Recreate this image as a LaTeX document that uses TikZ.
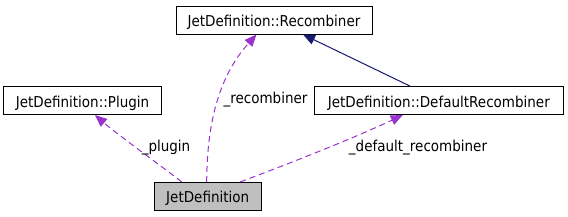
\documentclass[tikz,border=0pt]{standalone}
\usepackage{fontspec}
\setmainfont{DejaVu Sans}[FakeStretch=0.9]
\usetikzlibrary{arrows.meta,calc}
\definecolor{edgepurple}{HTML}{9A32CD}
\definecolor{edgenavy}{HTML}{191970}
\definecolor{boxgray}{HTML}{BFBFBF}
\tikzset{
  cls/.style={draw=black, line width=1bp, fill=white, inner sep=0pt, minimum height=28bp,
    text height=13bp, text depth=0bp, font=\fontsize{15bp}{17bp}\selectfont, anchor=center},
  usage/.style={draw=edgepurple, line width=1bp, dash pattern=on 6bp off 4bp,
    -{Triangle[length=12bp,width=10bp]}},
  inherit/.style={draw=edgenavy, line width=1bp, -{Triangle[length=12bp,width=10bp]}},
  lbl/.style={font=\fontsize{15bp}{17bp}\selectfont, inner sep=0pt, anchor=base},
}
\begin{document}
\begin{tikzpicture}[x=1bp,y=-1bp]
\useasboundingbox (0,0) rectangle (568,216);
\node[cls, minimum width=196bp] (rec) at (274,20) {JetDefinition::Recombiner};
\node[cls, minimum width=157bp] (plug) at (82.5,100.5) {JetDefinition::Plugin};
\node[cls, minimum width=249bp] (defrec) at (438.8,100.5) {JetDefinition::DefaultRecombiner};
\node[cls, minimum width=106.7bp, fill=boxgray] (jet) at (207.7,196.4) {JetDefinition};
% usage edges
\draw[usage] ($(jet.north)+(-26,0)$) .. controls (160,165) and (118,135) .. ($(plug.south)+(12.5,0)$);
\draw[usage] ($(jet.north)+(-1,0)$) .. controls (207,120) and (220,75) .. ($(rec.south)+(-17.5,0)$);
\draw[usage] ($(jet.north)+(32.5,0)$) .. controls (280,167) and (350,140) .. ($(defrec.south)+(-36,0)$);
% inheritance
\draw[inherit] ($(defrec.north)+(-29,0)$) -- ($(rec.south)+(29,0)$);
% labels
\node[lbl] (lplug) at (166,151) {\_plugin};
\node[lbl] (lrec) at (265.5,103) {\_recombiner};
\node[lbl] (ldef) at (418,151) {\_default\_recombiner};
\end{tikzpicture}
\end{document}
